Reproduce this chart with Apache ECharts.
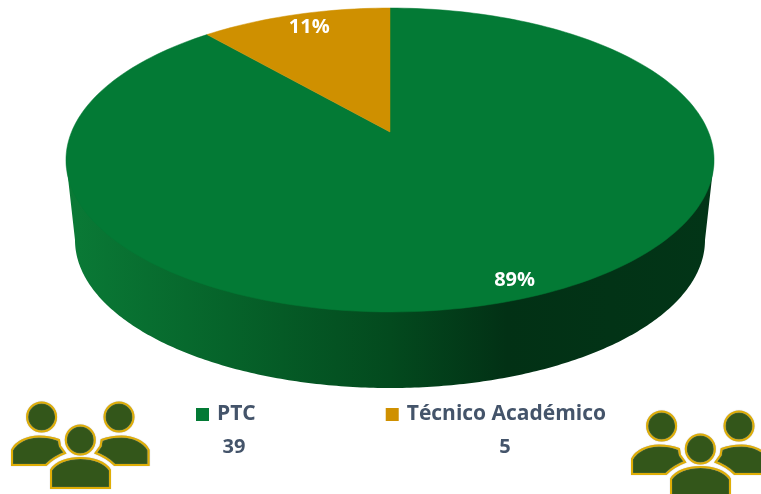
<!DOCTYPE html>
<html>
<head>
<meta charset="utf-8">
<style>html,body{margin:0;padding:0;background:#fff}#c{width:761px;height:494px}</style>
<script src="https://cdn.jsdelivr.net/npm/echarts@6/dist/echarts.min.js"></script>
</head>
<body>
<div id="c"></div>
<script>
const categories = ['PTC', 'Técnico Académico'];
const counts = [39, 5];
const percentLabels = ['89%', '11%'];
const sliceColors = ['#037a35', '#cf9000'];

const total = counts.reduce((a, b) => a + b, 0);
const STEPS = 240;
// Perspective projection of the tilted disc: (u,v) on the unit circle -> screen
const CX = 390, K = 318.5, PERSP = 0.1842, A = -122.5, B = 132;
function project(u, v) {
  const w = 1 + PERSP * v;
  return [CX + K * u / w, (A * v + B) / w];
}
function angleOf(i) { // clockwise from 12 o'clock
  let s = 0;
  for (let k = 0; k < i; k++) s += counts[k];
  return s / total * Math.PI * 2;
}
function wallPoints() {
  const pts = [];
  const bcx = 390, bcy = 240, brx = 315, bry = 148;
  pts.push([66, 160]);
  for (let i = 0; i <= STEPS; i++) {
    const t = Math.PI - i / STEPS * Math.PI;
    pts.push([bcx + brx * Math.cos(t), bcy + bry * Math.sin(t)]);
  }
  pts.push([714, 160]);
  return pts;
}
function renderSlice(params, api) {
  const i = params.seriesIndex;
  const a0 = angleOf(i), a1 = a0 + api.value(0) / total * Math.PI * 2;
  const pts = [project(0, 0)];
  const n = Math.max(8, Math.round(STEPS * (a1 - a0) / (Math.PI * 2)));
  for (let s = 0; s <= n; s++) {
    const a = a0 + (a1 - a0) * s / n;
    pts.push(project(Math.sin(a), Math.cos(a)));
  }
  const mid = (a0 + a1) / 2;
  const lp = project(0.9 * Math.sin(mid), 0.9 * Math.cos(mid));
  const children = [];
  if (i === 0) {
    children.push({
      type: 'polygon',
      shape: { points: wallPoints() },
      style: {
        fill: new echarts.graphic.LinearGradient(0, 0, 1, 0, [
          { offset: 0, color: '#0a7a36' },
          { offset: 0.25, color: '#06632a' },
          { offset: 0.5, color: '#034a1e' },
          { offset: 0.68, color: '#023115' },
          { offset: 1, color: '#023517' }
        ])
      }
    });
  }
  children.push({
    type: 'polygon',
    shape: { points: pts },
    style: { fill: sliceColors[i], stroke: sliceColors[i], lineWidth: 0.5 }
  });
  children.push({
    type: 'text', z2: 10,
    style: {
      x: lp[0] + 6, y: lp[1] + 2, text: percentLabels[i], align: 'center', verticalAlign: 'middle',
      fill: '#ffffff', font: 'bold 20px "Open Sans"'
    }
  });
  return { type: 'group', children };
}

function icon(dx, dy) {
  const st = { fill: '#33561a', stroke: '#dfae06', lineWidth: 2, shadowBlur: 1, shadowColor: '#aaa' };
  const head = (x, y) => ({ type: 'circle', shape: { cx: x, cy: y, r: 14.5 }, style: st });
  const body = d => ({ type: 'path', shape: { pathData: d }, style: st });
  return {
    type: 'group', x: dx, y: dy,
    children: [
      head(41.6, 417), head(119, 417), head(80.3, 440),
      body('M12 465 L12 450 C16 442 27 436.5 39 436.5 C47 436.5 54 438 59 440 L60 446 L65 453 C57 456 51 460 46 465 Z'),
      body('M148.6 465 L148.6 450 C144.6 442 133.6 436.5 121.6 436.5 C113.6 436.5 106.6 438 101.6 440 L100.6 446 L95.6 453 C103.6 456 109.6 460 114.6 465 Z'),
      body('M51 488 L51 470 C56 462 68 458 80.5 458 C93 458 105 462 110 470 L110 488 Z')
    ]
  };
}
const countStyle = { fill: '#44546a', font: 'bold 20px "Open Sans"', align: 'center', verticalAlign: 'middle' };

const chart = echarts.init(document.getElementById('c'), null, { renderer: 'canvas' });
chart.setOption({
  animation: false,
  backgroundColor: '#ffffff',
  legend: {
    left: 196, top: 404, itemWidth: 13, itemHeight: 13, itemGap: 130, itemStyle: { borderWidth: 0 }, icon: 'rect',
    padding: 0,
    data: categories,
    textStyle: { color: '#44546a', fontFamily: 'Open Sans', fontWeight: 'bold', fontSize: 21, padding: [0, 0, 0, 3] }
  },
  graphic: [
    { type: 'text', style: Object.assign({ x: 234, y: 447, text: String(counts[0]) }, countStyle) },
    { type: 'text', style: Object.assign({ x: 505, y: 447, text: String(counts[1]) }, countStyle) }
  ],
  series: categories.map((name, i) => ({
    type: 'custom', name, coordinateSystem: 'none', renderItem: renderSlice,
    itemStyle: { color: sliceColors[i] },
    data: [[counts[i]]], silent: true
  })).concat([{
    type: 'custom', name: 'icons', coordinateSystem: 'none', silent: true,
    renderItem: () => ({ type: 'group', children: [icon(0, 0), icon(620, 9)] }),
    data: [[0]]
  }])
});
</script>
</body>
</html>
